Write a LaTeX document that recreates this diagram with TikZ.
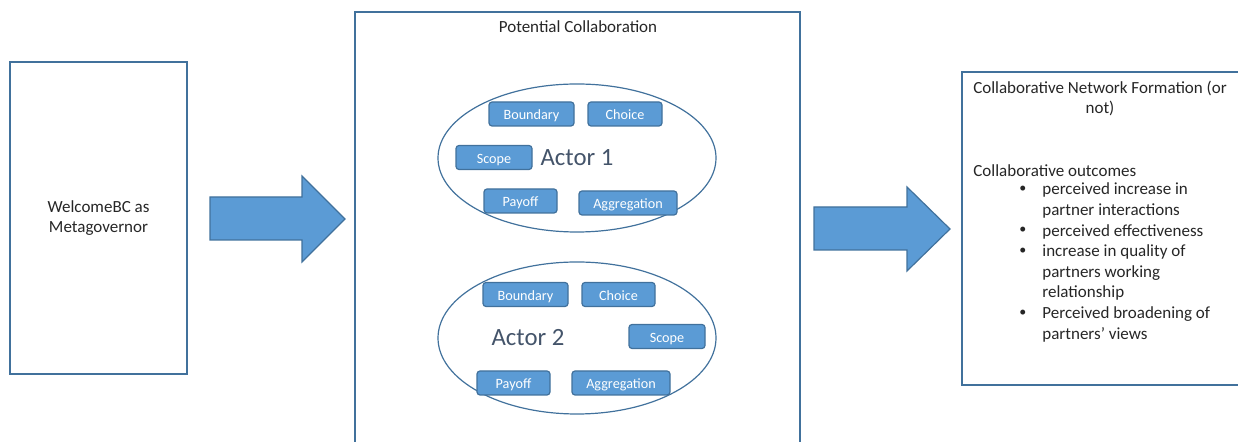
\documentclass[tikz,border=0pt]{standalone}
\usepackage{fontspec}
\setmainfont{Carlito}
\usetikzlibrary{shapes.geometric,positioning}

\definecolor{boxblue}{HTML}{5B9BD5}
\definecolor{edgeblue}{HTML}{41719C}
\definecolor{actorgray}{HTML}{44546A}
\definecolor{inkgray}{HTML}{262626}

\newcommand{\dotmark}{\raisebox{0.25ex}{\scriptsize\textbullet}}

\begin{document}
\begin{tikzpicture}[x=0.5pt, y=-0.5pt,
  frame/.style = {draw = edgeblue, line width = 0.6pt},
  plain/.style = {font = \fontsize{8.5}{10.3}\selectfont, text = inkgray, inner sep = 0pt},
  part/.style = {fill = boxblue, draw = edgeblue, line width = 0.6pt, shape = rectangle, rounded corners = 1.5pt,
                 minimum height = 12pt, inner sep = 0pt, text height = 1.5ex, text depth = 0.25ex,
                 text = white, font = \fontsize{7.1}{8}\selectfont},
  actor/.style = {frame, shape = ellipse, minimum width = 139pt, inner sep = 0pt},
  actorname/.style = {text = actorgray, font = \fontsize{12.4}{14}\selectfont, inner sep = 0pt},
  blockarrow/.style = {fill = boxblue, draw = edgeblue, line width = 0.6pt}]
\useasboundingbox (0,0) rectangle (1238,442);
\clip (0,0) rectangle (1238,442);

% left box
\draw[frame] (10,62) rectangle (187,374);
\node[plain, align = center] (gov) at (98.5,218) {WelcomeBC as\\Metagovernor};

% middle box
\draw[frame] (355,12) rectangle (800,470);
\node[plain] (collab) at (578,26.5) {Potential Collaboration};

% first actor
\node[actor, minimum height = 74pt] (e1) at (577,158) {};
\node[actorname] (a1) at (577,158) {Actor 1};
\node[part, minimum width = 42.5pt] (b1) at (531.5,114) {Boundary};
\node[part, minimum width = 37pt]   (c1) at (625,114)   {Choice};
\node[part, minimum width = 38pt]   (s1) at (494,157.5) {Scope};
\node[part, minimum width = 36.5pt] (p1) at (520.5,201) {Payoff};
\node[part, minimum width = 49pt]   (g1) at (628,203)   {Aggregation};

% second actor
\node[actor, minimum height = 76pt] (e2) at (577,338) {};
\node[actorname] (a2) at (528,338) {Actor 2};
\node[part, minimum width = 42.5pt] (b2) at (525.5,294.5) {Boundary};
\node[part, minimum width = 36.5pt] (c2) at (618.5,294.5) {Choice};
\node[part, minimum width = 38pt]   (s2) at (667,336.5)   {Scope};
\node[part, minimum width = 36.5pt] (p2) at (513.5,383)   {Payoff};
\node[part, minimum width = 49pt]   (g2) at (621,383)     {Aggregation};

% right box
\draw[frame] (962,72) rectangle (1245,385);
\node[plain, align = center] (net) at (1100,98.5) {Collaborative Network Formation (or\\not)};
\node[plain, anchor = west] (out) at (973,171) {Collaborative outcomes};
\node[plain, anchor = north west] (list) at (1019,180) {%
  \begin{tabular}{@{}p{11.5pt}@{}l@{}}
  \dotmark & perceived increase in\\
           & partner interactions\\
  \dotmark & perceived effectiveness\\
  \dotmark & increase in quality of\\
           & partners working\\
           & relationship\\
  \dotmark & Perceived broadening of\\
           & partners’ views
  \end{tabular}};

% block arrows
\draw[blockarrow] (210,197) -- (302,197) -- (302,176) -- (345,219) -- (302,262) -- (302,240) -- (210,240) -- cycle;
\draw[blockarrow] (814,207) -- (907,207) -- (907,187) -- (950,229) -- (907,271) -- (907,250) -- (814,250) -- cycle;
\end{tikzpicture}
\end{document}
